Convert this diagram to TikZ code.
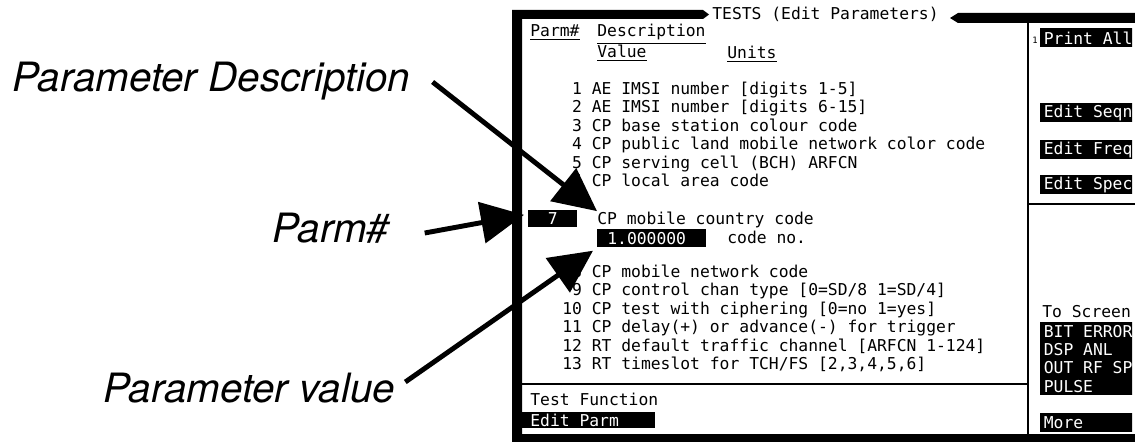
\documentclass[tikz,border=0pt]{standalone}
\usepackage{fontspec}
\usetikzlibrary{arrows.meta,positioning}
\newfontfamily\screenfont{DejaVu Sans Mono}
\newfontfamily\calloutfont{TeX Gyre Heros}
\tikzset{
  scrtext/.style={anchor=base west,inner sep=0pt,font=\screenfont\fontsize{9.3}{10.4}\selectfont},
  keybox/.style={scrtext,anchor=north west,fill=black,text=white,inner ysep=0pt,inner xsep=0.07cm,
                 minimum width=1.84cm,minimum height=0.38cm,text width=2.2cm,align=left,
                 execute at begin node={\spaceskip=\fontdimen2\font\relax}},
  calloutlabel/.style={anchor=base west,inner sep=0pt,font=\calloutfont\itshape\fontsize{23}{27}\selectfont},
  callarr/.style={-{Triangle[length=0.86cm,width=0.82cm]},line width=2.8pt},
  rule/.style={line width=1.1pt}
}

\begin{document}
\begin{tikzpicture}[x=0.02cm,y=-0.02cm]

  \fill[white] (0,0) rectangle (1135,442);
  \useasboundingbox (0,0) rectangle (1135,442);

  %% screen frame
  \fill (512,10) -- (703,10) -- (709,14.5) -- (703,19) -- (522,19) -- (522,442) -- (512,442) -- cycle;
  \fill (950,18) -- (958,13) -- (1135,13) -- (1135,23) -- (958,23) -- cycle;
  \fill (512,434) rectangle (1135,442);
  \draw[rule] (1028,21) -- (1028,434);
  \draw[rule] (522,384) -- (1028,384);
  \draw[rule] (1028,204) -- (1135,204);

  \node[scrtext] (title) at (712,20) {TESTS (Edit Parameters)};

  %% column headings
  \node[scrtext] (hparm) at (530,37) {\underline{Parm\#}};
  \node[scrtext] (hdesc) at (597,37) {\underline{Description}};
  \node[scrtext] (hval)  at (597,58) {\underline{Value}};
  \node[scrtext] (hunit) at (727,59) {\underline{Units}};

  %% parameter list
  \node[scrtext] (line1) at (562,95)  {\hphantom{0}1 AE IMSI number [digits 1-5]};
  \node[scrtext] (line2) at (562,113) {\hphantom{0}2 AE IMSI number [digits 6-15]};
  \node[scrtext] (line3) at (562,132) {\hphantom{0}3 CP base station colour code};
  \node[scrtext] (line4) at (562,150) {\hphantom{0}4 CP public land mobile network color code};
  \node[scrtext] (line5) at (562,169) {\hphantom{0}5 CP serving cell (BCH) ARFCN};
  \node[scrtext] (line6) at (562,187) {\hphantom{0}6 CP local area code};

  \node[scrtext,anchor=north west,fill=black,text=white,minimum width=0.98cm,minimum height=0.34cm,
        align=center] (parmbox) at (528,210) {7};
  \node[scrtext] (line7) at (597,224) {CP mobile country code};
  \node[scrtext,anchor=north west,fill=black,text=white,inner xsep=0.2cm,minimum width=2.18cm,
        minimum height=0.36cm,text width=1.78cm,align=left] (valbox) at (597,229) {1.000000};
  \node[scrtext] (unit7) at (727,243) {code no.};

  \node[scrtext] (line8)  at (562,277) {\hphantom{0}8 CP mobile network code};
  \node[scrtext] (line9)  at (562,295) {\hphantom{0}9 CP control chan type [0=SD/8 1=SD/4]};
  \node[scrtext] (line10) at (562,314) {10 CP test with ciphering [0=no 1=yes]};
  \node[scrtext] (line11) at (562,332) {11 CP delay(+) or advance(-) for trigger};
  \node[scrtext] (line12) at (562,351) {12 RT default traffic channel [ARFCN 1-124]};
  \node[scrtext] (line13) at (562,369) {13 RT timeslot for TCH/FS [2,3,4,5,6]};

  %% test function field
  \node[scrtext] (tfunc) at (530,405) {Test Function};
  \node[keybox,inner xsep=0.16cm,minimum width=2.66cm,minimum height=0.32cm,text width=2.34cm]
    (editparm) at (522,412) {Edit Parm};

  %% softkeys
  \begin{scope}
    \clip (1028,0) rectangle (1132,442);
    \node[scrtext,font=\screenfont\fontsize{5}{6}\selectfont] (keyone) at (1032,44) {1};
    \node[keybox] (kprint) at (1040,28)  {Print All};
    \node[keybox] (kseqn)  at (1040,103) {Edit Seqn};
    \node[keybox] (kfreq)  at (1040,140) {Edit Freq};
    \node[keybox] (kspec)  at (1040,175) {Edit Spec};
    \node[scrtext] (toscr) at (1042,317) {To Screen};
    \node[keybox,minimum height=1.46cm] (kscreen) at (1040,322)
      {BIT ERROR\\DSP ANL\\OUT RF SP\\PULSE};
    \node[keybox] (kmore) at (1040,413) {More};
  \end{scope}

  %% callouts
  \node[calloutlabel] (pdesc) at (12,92)  {Parameter Description};
  \node[calloutlabel] (pnum)  at (272,242) {Parm\#};
  \node[calloutlabel] (pval)  at (103,402) {Parameter value};

  \draw[callarr] ([shift={(22,-10)}]pdesc.base east) -- (line7.north west);
  \draw[callarr] ([shift={(35,-9)}]pnum.base east) -- ([shift={(-4,-4)}]parmbox.west);
  \draw[callarr] ([shift={(10,-20)}]pval.base east) -- ([shift={(-4,3)}]valbox.south west);

\end{tikzpicture}
\end{document}
